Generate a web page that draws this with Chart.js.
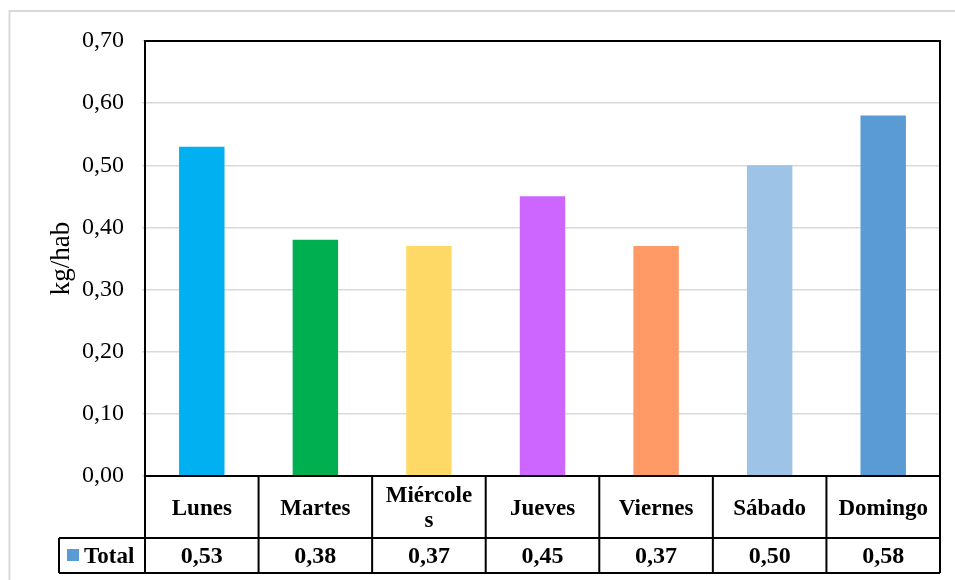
<!DOCTYPE html>
<html>
<head>
<meta charset="utf-8">
<script src="https://cdn.jsdelivr.net/npm/chart.js@4"></script>
<style>
  html, body { margin: 0; padding: 0; background: #ffffff; }
  #wrap { width: 955px; height: 580px; }
</style>
</head>
<body>
<div id="wrap"><canvas id="c" width="955" height="580"></canvas></div>
<script>
const categories = ["Lunes", "Martes", "Miércoles", "Jueves", "Viernes", "Sábado", "Domingo"];
const categoryLines = [["Lunes"], ["Martes"], ["Miércole", "s"], ["Jueves"], ["Viernes"], ["Sábado"], ["Domingo"]];
const seriesName = "Total";
const totals = [0.53, 0.38, 0.37, 0.45, 0.37, 0.50, 0.58];
const barColors = ["#00B0F0", "#00B050", "#FFD966", "#CC66FF", "#FF9966", "#9DC3E6", "#5B9BD5"];
const legendColor = "#5B9BD5";
const yAxisTitle = "kg/hab";
const yMin = 0, yMax = 0.70, yStep = 0.10;

const SERIF = '"Liberation Serif", "Times New Roman", "DejaVu Serif", serif';
const fmt = v => v.toFixed(2).replace('.', ',');

const tablePlugin = {
  id: 'tablePlugin',
  beforeDraw(chart) {
    const ctx = chart.ctx;
    ctx.save();
    ctx.fillStyle = '#ffffff';
    ctx.fillRect(0, 0, chart.width, chart.height);
    ctx.strokeStyle = '#d9d9d9';
    ctx.lineWidth = 2;
    ctx.strokeRect(9.5, 11, 960, 600);
    ctx.restore();
  },
  afterDraw(chart) {
    const ctx = chart.ctx;
    const xs = chart.scales.x;
    const area = chart.chartArea;
    const n = categories.length;
    const half = (xs.getPixelForValue(1) - xs.getPixelForValue(0)) / 2;
    const rowTop = area.bottom;
    const rowMid = 538;
    const rowBot = 573;
    const tableLeft = 59;
    ctx.save();
    // plot border
    ctx.strokeStyle = '#000000';
    ctx.lineWidth = 2;
    ctx.strokeRect(area.left, area.top, area.right - area.left, area.bottom - area.top);
    // table lines
    ctx.beginPath();
    ctx.moveTo(tableLeft, rowMid); ctx.lineTo(area.right, rowMid);
    ctx.moveTo(tableLeft, rowBot); ctx.lineTo(area.right, rowBot);
    ctx.moveTo(tableLeft, rowMid); ctx.lineTo(tableLeft, rowBot);
    for (let i = 0; i < n; i++) {
      const xl = xs.getPixelForValue(i) - half;
      ctx.moveTo(xl, rowTop); ctx.lineTo(xl, rowBot);
    }
    const xr = xs.getPixelForValue(n - 1) + half;
    ctx.moveTo(xr, rowTop); ctx.lineTo(xr, rowBot);
    ctx.stroke();

    // category labels
    ctx.fillStyle = '#000000';
    ctx.textAlign = 'center';
    ctx.textBaseline = 'alphabetic';
    ctx.font = 'bold 23px ' + SERIF;
    for (let i = 0; i < n; i++) {
      const cx = xs.getPixelForValue(i);
      const lines = categoryLines[i];
      if (lines.length === 1) {
        ctx.fillText(lines[0], cx, 515);
      } else {
        ctx.fillText(lines[0], cx, 502);
        ctx.fillText(lines[1], cx, 527);
      }
    }
    // values row
    ctx.font = 'bold 24px ' + SERIF;
    for (let i = 0; i < n; i++) {
      const cx = xs.getPixelForValue(i);
      ctx.fillText(fmt(totals[i]), cx, 563);
    }
    // legend cell
    ctx.fillStyle = legendColor;
    ctx.fillRect(67, 549, 12, 12);
    ctx.fillStyle = '#000000';
    ctx.textAlign = 'left';
    ctx.font = 'bold 23px ' + SERIF;
    ctx.fillText(seriesName, 84, 563);
    ctx.restore();
  }
};

new Chart(document.getElementById('c'), {
  type: 'bar',
  data: {
    labels: categories,
    datasets: [{
      label: seriesName,
      data: totals,
      backgroundColor: barColors,
      borderWidth: 0,
      barPercentage: 0.4,
      categoryPercentage: 1.0
    }]
  },
  options: {
    responsive: false,
    animation: false,
    devicePixelRatio: 1,
    layout: { padding: { left: 0, top: 41, right: 15, bottom: 104 } },
    plugins: { legend: { display: false }, tooltip: { enabled: false } },
    scales: {
      x: { display: false },
      y: {
        min: yMin,
        max: yMax,
        afterFit(scale) { scale.width = 145; },
        ticks: {
          stepSize: yStep,
          padding: 18,
          color: '#000000',
          font: { family: SERIF, size: 24 },
          callback: v => fmt(v)
        },
        grid: { color: '#d9d9d9', lineWidth: 1.5, tickLength: 3 },
        border: { display: false },
        title: {
          display: true,
          text: yAxisTitle,
          color: '#000000',
          font: { family: SERIF, size: 27 },
          padding: { top: 46, bottom: 0 }
        }
      }
    }
  },
  plugins: [tablePlugin]
});
</script>
</body>
</html>
